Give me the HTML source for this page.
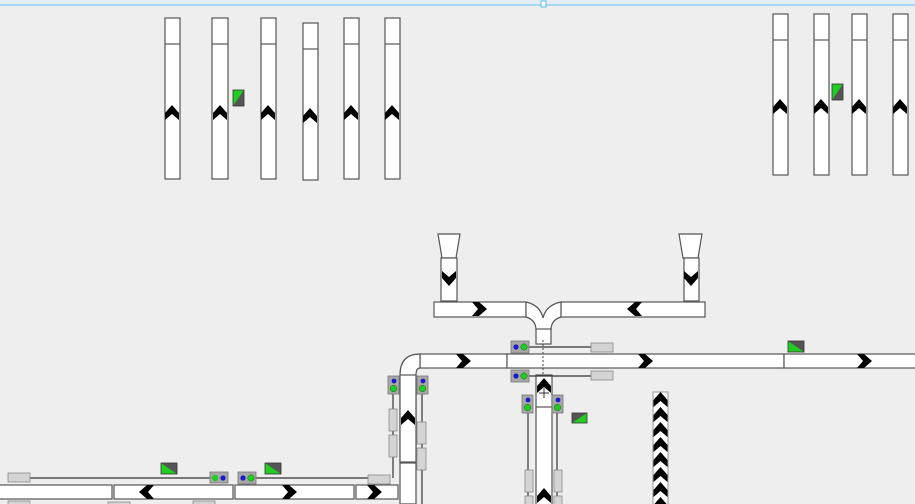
<!DOCTYPE html>
<html><head><meta charset="utf-8"><style>
html,body{margin:0;padding:0;background:#eeeeee;width:915px;height:504px;overflow:hidden}
svg{display:block}
</style></head><body>
<svg width="915" height="504" viewBox="0 0 915 504" xmlns="http://www.w3.org/2000/svg">
<defs>
<g id="chU"><polygon points="-7,1 0,-7 7,1 7,8 0,2 -7,8" fill="#000"/></g>
<g id="chD"><polygon points="-7,-1 0,7 7,-1 7,-8 0,-2 -7,-8" fill="#000"/></g>
<g id="chR"><polygon points="-1,-7 7,0 -1,7 -8,7 -2,0 -8,-7" fill="#000"/></g>
<g id="chL"><polygon points="1,-7 -7,0 1,7 8,7 2,0 8,-7" fill="#000"/></g>
<g id="sigH"><rect x="0" y="0" width="18" height="12" fill="#a8a8a8" stroke="#777" stroke-width="0.8"/><circle cx="5" cy="6" r="2.6" fill="#1a1acc"/><circle cx="13" cy="6" r="3.2" fill="#22cc22" stroke="#116611" stroke-width="0.5"/></g>
<g id="sigV"><rect x="0" y="0" width="11" height="18" fill="#a8a8a8" stroke="#777" stroke-width="0.8"/><circle cx="6" cy="5" r="2.4" fill="#1a1acc"/><circle cx="5.5" cy="12.5" r="3.3" fill="#22cc22" stroke="#116611" stroke-width="0.5"/></g>
</defs>
<!-- ruler -->
<rect x="0" y="0" width="915" height="5" fill="#e4eef6"/>
<line x1="0" y1="5" x2="915" y2="5" stroke="#8fd0f0" stroke-width="1.5"/>
<rect x="541" y="1" width="5" height="6" fill="#fff" stroke="#5bbde8"/>

<g stroke="#555" stroke-width="1.2" fill="#fff">
<rect x="165" y="18" width="15" height="161"/><line x1="165" y1="44" x2="180" y2="44"/>
<rect x="212" y="18" width="16" height="161"/><line x1="212" y1="44" x2="228" y2="44"/>
<rect x="261" y="18" width="15" height="161"/><line x1="261" y1="44" x2="276" y2="44"/>
<rect x="303" y="23" width="15" height="157"/><line x1="303" y1="49" x2="318" y2="49"/>
<rect x="344" y="18" width="15" height="161"/><line x1="344" y1="44" x2="359" y2="44"/>
<rect x="385" y="18" width="15" height="161"/><line x1="385" y1="44" x2="400" y2="44"/>
<rect x="773" y="14" width="15" height="161"/><line x1="773" y1="40" x2="788" y2="40"/>
<rect x="814" y="14" width="15" height="161"/><line x1="814" y1="40" x2="829" y2="40"/>
<rect x="852" y="14" width="15" height="161"/><line x1="852" y1="40" x2="867" y2="40"/>
<rect x="893" y="14" width="15" height="161"/><line x1="893" y1="40" x2="908" y2="40"/>
<polygon points="438,234 460,234 456,258 442,258"/>
<rect x="441" y="258" width="16" height="43"/>
<polygon points="679,234 702,234 698,258 683,258"/>
<rect x="684" y="258" width="15" height="43"/>
<rect x="434" y="302" width="92" height="15"/>
<rect x="561" y="302" width="144" height="15"/>
<path d="M526,302 Q540,305 543,318 Q546,305 561,302 L561,317 Q551,320 551,330 L536,330 Q536,320 526,317 Z"/>
<rect x="536" y="329" width="15" height="15"/>
<rect x="420" y="354" width="87" height="14"/>
<rect x="507" y="354" width="277" height="14"/>
<rect x="784" y="354" width="135" height="14"/>
<path d="M400,504 L400,375 Q400,354 420,354 L420,368 Q416,368 416,375 L416,504 Z"/>
<rect x="400" y="375" width="16" height="87"/>
<line x1="400" y1="463" x2="416" y2="463"/>
<rect x="536" y="375" width="16" height="135"/>
<line x1="536" y1="407" x2="552" y2="407"/>
<rect x="-2" y="485" width="114" height="14"/>
<rect x="114" y="485" width="119" height="14"/>
<rect x="235" y="485" width="119" height="14"/>
<rect x="356" y="485" width="42" height="14"/>
</g>
<line x1="543" y1="340" x2="543" y2="375" stroke="#444" stroke-dasharray="2,2"/>
<line x1="539" y1="393" x2="549" y2="393" stroke="#333"/><line x1="544" y1="388" x2="544" y2="398" stroke="#333"/>
<use href="#chU" x="172" y="112"/><use href="#chU" x="220" y="112"/><use href="#chU" x="268" y="112"/>
<use href="#chU" x="310" y="115"/><use href="#chU" x="351" y="112"/><use href="#chU" x="392" y="112"/>
<use href="#chU" x="780" y="106"/><use href="#chU" x="821" y="106"/><use href="#chU" x="859" y="106"/><use href="#chU" x="900" y="106"/>
<use href="#chD" x="449" y="279"/><use href="#chD" x="691" y="279"/>
<use href="#chR" x="480" y="309"/><use href="#chL" x="634" y="309"/>
<use href="#chR" x="464" y="361"/><use href="#chR" x="646" y="361"/><use href="#chR" x="865" y="361"/>
<use href="#chU" x="408" y="417"/>
<use href="#chU" x="544" y="385"/><use href="#chU" x="544" y="495"/>
<use href="#chL" x="146" y="492"/><use href="#chR" x="290" y="492"/><use href="#chR" x="375" y="492"/>
<g>
<rect x="653" y="392" width="15" height="115" fill="#fff" stroke="#999"/>
<use href="#chU" x="660.5" y="399"/><use href="#chU" x="660.5" y="414"/><use href="#chU" x="660.5" y="429"/>
<use href="#chU" x="660.5" y="444"/><use href="#chU" x="660.5" y="459"/><use href="#chU" x="660.5" y="474"/>
<use href="#chU" x="660.5" y="489"/><use href="#chU" x="660.5" y="504"/>
</g>
<g stroke="#333" stroke-width="1.2">
<line x1="529" y1="347" x2="592" y2="347"/><line x1="529" y1="376" x2="592" y2="376"/>
<line x1="393" y1="394" x2="393" y2="478"/><line x1="422" y1="394" x2="422" y2="504"/>
<line x1="528" y1="413" x2="528" y2="504"/><line x1="557" y1="413" x2="557" y2="504"/>
<line x1="30" y1="478" x2="210" y2="478"/><line x1="256" y1="478" x2="368" y2="478"/>
</g>
<g fill="#d4d4d4" stroke="#888" stroke-width="0.8">
<rect x="591" y="343" width="22" height="9"/><rect x="591" y="371" width="22" height="9"/>
<rect x="389" y="409" width="8" height="22"/><rect x="389" y="435" width="8" height="22"/>
<rect x="417" y="422" width="9" height="22"/><rect x="417" y="448" width="9" height="22"/>
<rect x="525" y="470" width="8" height="22"/><rect x="525" y="496" width="8" height="22"/>
<rect x="554" y="470" width="8" height="22"/><rect x="554" y="496" width="8" height="22"/>
<rect x="8" y="473" width="22" height="9"/><rect x="368" y="475" width="22" height="9"/>
<rect x="8" y="501" width="22" height="9"/><rect x="108" y="502" width="22" height="9"/><rect x="193" y="501" width="22" height="9"/>
</g>
<use href="#sigH" x="511" y="341"/><use href="#sigH" x="511" y="370"/>
<use href="#sigV" x="388" y="376"/><use href="#sigV" x="417" y="376"/>
<use href="#sigV" x="522" y="395"/><use href="#sigV" x="552" y="395"/>
<g transform="translate(210,472)"><rect width="18" height="11" fill="#a8a8a8" stroke="#777" stroke-width="0.8"/><circle cx="5" cy="6" r="3.2" fill="#22cc22"/><circle cx="13" cy="6" r="2.6" fill="#1a1acc"/></g>
<use href="#sigH" x="238" y="472"/>
<g transform="translate(233,90)"><rect width="11" height="16" fill="#555"/><polygon points="0,0 11,0 0,16" fill="#22cc22"/><rect width="11" height="16" fill="none" stroke="#333" stroke-width="0.8"/></g>
<g transform="translate(832,84)"><rect width="11" height="16" fill="#555"/><polygon points="0,0 11,0 0,16" fill="#22cc22"/><rect width="11" height="16" fill="none" stroke="#333" stroke-width="0.8"/></g>
<g transform="translate(572,413)"><rect width="15" height="10" fill="#555"/><polygon points="15,0 15,10 0,10" fill="#22cc22"/><rect width="15" height="10" fill="none" stroke="#333" stroke-width="0.8"/></g>
<g transform="translate(788,341)"><rect width="16" height="11" fill="#555"/><polygon points="0,0 16,11 0,11" fill="#22cc22"/><rect width="16" height="11" fill="none" stroke="#333" stroke-width="0.8"/></g>
<g transform="translate(161,463)"><rect width="16" height="11" fill="#555"/><polygon points="0,0 16,11 0,11" fill="#22cc22"/><rect width="16" height="11" fill="none" stroke="#333" stroke-width="0.8"/></g>
<g transform="translate(265,463)"><rect width="16" height="11" fill="#555"/><polygon points="0,0 16,11 0,11" fill="#22cc22"/><rect width="16" height="11" fill="none" stroke="#333" stroke-width="0.8"/></g>
</svg>
</body></html>
